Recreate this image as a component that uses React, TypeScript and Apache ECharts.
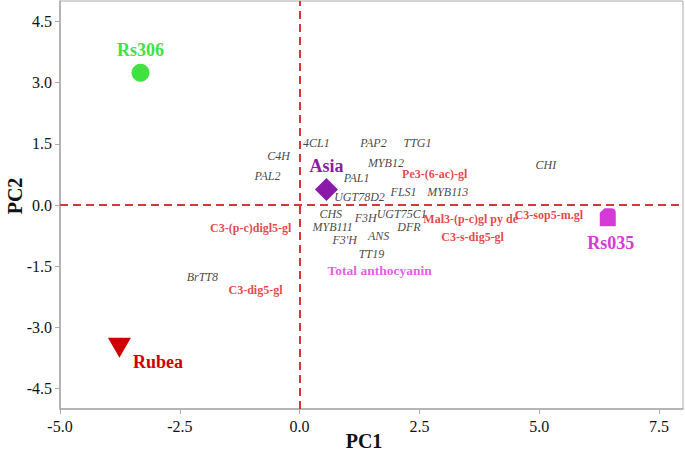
import React, { useEffect, useRef } from "react";
import * as echarts from "echarts";

const SERIF = "'Liberation Serif', 'Times New Roman', serif";

// Gene loadings (black italic labels)
const geneNames = ["4CL1", "PAP2", "TTG1", "C4H", "PAL2", "MYB12", "CHI", "PAL1", "UGT78D2", "FLS1", "MYB113", "CHS", "F3H", "UGT75C1", "MYB111", "DFR", "F3'H", "ANS", "TT19", "BrTT8"];
const geneX = [0.35, 1.54, 2.46, -0.44, -0.67, 1.8, 5.14, 1.19, 1.25, 2.17, 3.09, 0.65, 1.38, 2.13, 0.69, 2.28, 0.94, 1.65, 1.5, -2.03];
const geneY = [1.51, 1.51, 1.53, 1.21, 0.72, 1.02, 0.97, 0.65, 0.19, 0.31, 0.31, -0.21, -0.33, -0.23, -0.55, -0.55, -0.86, -0.77, -1.21, -1.77];

// Metabolite loadings (red bold labels)
const metNames = ["Pe3-(6-ac)-gl", "Mal3-(p-c)gl py de", "C3-sop5-m.gl", "C3-s-dig5-gl", "C3-(p-c)digl5-gl", "C3-dig5-gl"];
const metX = [2.82, 3.57, 5.2, 3.61, -1.02, -0.92];
const metY = [0.75, -0.35, -0.25, -0.79, -0.57, -2.09];

// Total anthocyanin
const totalName = ["Total anthocyanin"];
const totalX = [1.67];
const totalY = [-1.6];

// Samples (scores)
const sampleNames = ["Rs306", "Asia", "Rs035", "Rubea"];
const sampleX = [-3.32, 0.56, 6.43, -3.76];
const sampleY = [3.24, 0.38, -0.3, -3.5];

const xTicks = [-5, -2.5, 0, 2.5, 5, 7.5];
const yTicks = [-4.5, -3, -1.5, 0, 1.5, 3, 4.5];

export default function App() {
  const ref = useRef<HTMLDivElement>(null);
  useEffect(() => {
    if (!ref.current) return;
    const chart = echarts.init(ref.current, null, { renderer: "svg" });

    const textSeries = (names: string[], xs: number[], ys: number[], style: any) => ({
      type: "scatter",
      symbolSize: 0,
      silent: true,
      data: names.map((n, i) => ({ name: n, value: [xs[i], ys[i]] })),
      label: {
        show: true,
        position: [0, 0],
        align: "center",
        verticalAlign: "middle",
        formatter: (p: any) => p.name,
        fontFamily: SERIF,
        ...style,
      },
    });

    const sampleStyles = [
      { symbol: "circle", size: 18, color: "#3fe23f", pos: "top", dist: 5, offset: [0, 0] },
      { symbol: "diamond", size: 23, color: "#8b1aa8", pos: "top", dist: 3, offset: [0, 0] },
      {
        symbol: "path://M0,3 L3,0 L7,0 Q10,0 10,3 L10,12 L0,12 Z",
        size: [16, 18],
        color: "#d63ad6",
        pos: "bottom",
        dist: 8,
        offset: [3, 0],
      },
      { symbol: "triangle", size: [23, 20], color: "#cc0000", pos: "right", dist: 2, offset: [0, 14], rotate: 180 },
    ];

    const sampleSeries = sampleNames.map((n, i) => {
      const s: any = sampleStyles[i];
      return {
        type: "scatter",
        symbol: s.symbol,
        symbolSize: s.size,
        symbolRotate: s.rotate || 0,
        itemStyle: { color: s.color, opacity: 1 },
        data: [{ name: n, value: [sampleX[i], sampleY[i]] }],
        label: {
          show: true,
          position: s.pos,
          distance: s.dist,
          offset: s.offset,
          formatter: (p: any) => p.name,
          color: s.color,
          fontFamily: SERIF,
          fontWeight: "bold",
          fontSize: 18,
        },
        z: 5,
      };
    });

    chart.setOption({
      animation: false,
      grid: { left: 60, right: 2, top: 1, bottom: 45, show: true, borderColor: "#aaaaaa", borderWidth: 1 },
      xAxis: {
        type: "value",
        min: -5,
        max: 8,
        splitLine: { show: false },
        axisLine: { onZero: false, lineStyle: { color: "#aaaaaa", width: 1.5 } },
        axisTick: { show: true, length: 5, customValues: xTicks, lineStyle: { color: "#aaaaaa" } },
        axisLabel: {
          customValues: xTicks,
          formatter: (v: number) => v.toFixed(1),
          color: "#111",
          fontFamily: SERIF,
          fontSize: 16,
          margin: 9,
        },
      },
      yAxis: {
        type: "value",
        min: -5,
        max: 5,
        splitLine: { show: false },
        axisLine: { onZero: false, lineStyle: { color: "#aaaaaa", width: 1.5 } },
        axisTick: { show: true, length: 5, customValues: yTicks, lineStyle: { color: "#aaaaaa" } },
        axisLabel: {
          customValues: yTicks,
          formatter: (v: number) => v.toFixed(1),
          color: "#111",
          fontFamily: SERIF,
          fontSize: 16,
          margin: 8,
        },
      },
      graphic: [
        {
          type: "text",
          x: 364,
          y: 441,
          style: {
            text: "PC1",
            fontFamily: SERIF,
            fontWeight: "bold",
            fontSize: 20,
            fill: "#111",
            align: "center",
            verticalAlign: "middle",
          },
        },
        {
          type: "text",
          x: 15,
          y: 196,
          rotation: Math.PI / 2,
          style: {
            text: "PC2",
            fontFamily: SERIF,
            fontWeight: "bold",
            fontSize: 20,
            fill: "#111",
            align: "center",
            verticalAlign: "middle",
          },
        },
      ],
      series: [
        {
          type: "scatter",
          symbolSize: 0,
          data: [],
          markLine: {
            silent: true,
            symbol: "none",
            label: { show: false },
            lineStyle: { color: "#d9363a", width: 2, type: [8, 5] },
            data: [{ xAxis: 0 }, { yAxis: 0 }],
          },
        },
        textSeries(geneNames, geneX, geneY, { color: "#111", fontStyle: "italic", fontSize: 12 }),
        textSeries(metNames, metX, metY, { color: "#dd1414", fontWeight: "bold", fontSize: 12 }),
        textSeries(totalName, totalX, totalY, { color: "#e030e0", fontWeight: "bold", fontSize: 13.5 }),
        ...sampleSeries,
      ],
    });
    return () => chart.dispose();
  }, []);
  return <div ref={ref} style={{ width: 685, height: 454, position: "absolute", left: 0, top: 0 }} />;
}
